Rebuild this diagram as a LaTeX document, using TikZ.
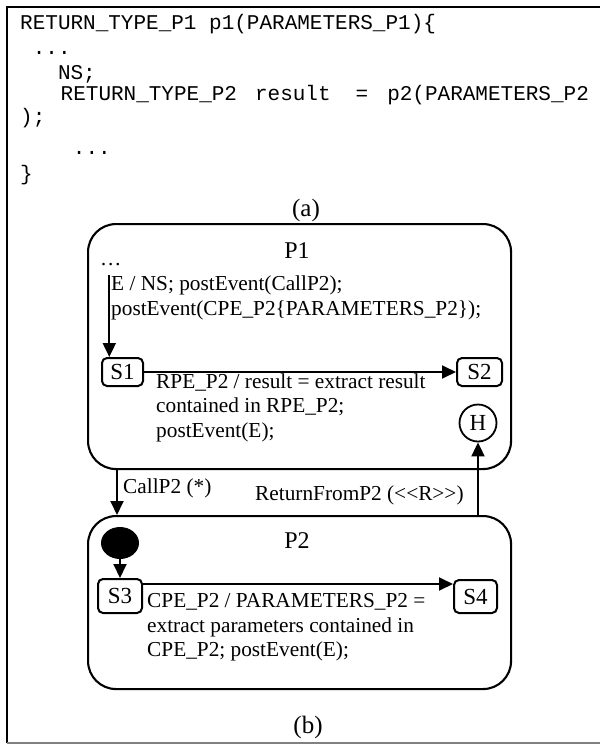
\documentclass[tikz,border=0pt]{standalone}
\usepackage{fontspec}
\setmainfont{Liberation Serif}
\newfontfamily\codefont{Liberation Mono}
\usetikzlibrary{arrows.meta,calc,shapes.geometric}

\begin{document}
\begin{tikzpicture}[x=1pt,y=-1pt,
  code/.style={anchor=base west,inner sep=0pt,font=\codefont\fontsize{21}{24}\selectfont},
  lbl/.style={anchor=base west,inner sep=0pt,font=\fontsize{21.3}{24.5}\selectfont},
  caption/.style={anchor=base,inner sep=0pt,font=\fontsize{25}{28}\selectfont},
  regiontitle/.style={anchor=base,inner sep=0pt,font=\fontsize{24}{28}\selectfont},
  region/.style={draw,line width=2.1pt,rounded corners=28pt,anchor=north west,inner sep=0pt},
  simple/.style={draw,line width=2pt,rounded corners=5pt,inner sep=0pt,font=\fontsize{23}{26}\selectfont},
  flow/.style={line width=1.9pt,-{Triangle[length=14pt,width=13pt]}}
]
\useasboundingbox (0,0) rectangle (600,745);

% outer frame
\draw[line width=1.5pt] (600,7) -- (7,7) -- (7,743);
\draw[gray,line width=1.2pt] (7,743) -- (600,743);

% (a) source fragment
\node[code] (c1) at (20,29) {RETURN\_TYPE\_P1 p1(PARAMETERS\_P1)\{};
\node[code] (c2) at (32.6,54) {...};
\node[code] (c3) at (57.8,79) {NS;};
\node[code] (c4) at (60.5,100) {RETURN\_TYPE\_P2\hspace{18pt}result\hspace{25pt}=\hspace{19pt}p2(PARAMETERS\_P2};
\node[code] (c5) at (20,123) {);};
\node[code] (c6) at (72.7,154) {...};
\node[code] (c7) at (20,180) {\}};
\node[caption] (capa) at (306,216) {(a)};

% (b) state machines
\node[region,minimum width=423pt,minimum height=245pt] (P1) at (87,223) {};
\node[region,minimum width=423pt,minimum height=173pt] (P2) at (87,515) {};
\node[regiontitle] (P1t) at (297,258) {P1};
\node[regiontitle] (P2t) at (297,548) {P2};

\node[simple,minimum width=41pt,minimum height=28pt] (S1) at (122.5,372) {S1};
\node[simple,minimum width=45pt,minimum height=28pt] (S2) at (479.5,372) {S2};
\node[simple,minimum width=44pt,minimum height=34pt] (S3) at (120,596) {S3};
\node[simple,minimum width=43pt,minimum height=33pt] (S4) at (475.5,596.5) {S4};
\node[draw,circle,line width=1.8pt,minimum size=37pt,inner sep=0pt,font=\fontsize{23}{26}\selectfont] (H) at (478,423) {H};
\node[fill,ellipse,minimum width=38pt,minimum height=32pt,inner sep=0pt] (init) at (120,543) {};

% P1 internals
\node[lbl] (dots) at (100,265) {…};
\coordinate (p1in) at (109.3,275);
\draw[flow] (p1in) -- (p1in |- S1.north);
\node[lbl] (t1a) at (111,290) {E / NS; postEvent(CallP2);};
\node[lbl] (t1b) at (111,315) {postEvent(CPE\_P2\{PARAMETERS\_P2\});};

\draw[flow] (S1.east) -- (S2.west);
\node[lbl] (t2a) at (156,388) {RPE\_P2 / result = extract result};
\node[lbl] (t2b) at (156,412) {contained in RPE\_P2;};
\node[lbl] (t2c) at (156,437) {postEvent(E);};

% call and return between P1 and P2
\coordinate (callx) at (117,0);
\draw[flow] (callx |- P1.south) -- (callx |- P2.north);
\node[lbl] (callt) at (123,493) {CallP2 (*)};
\draw[flow] (H |- P2.north) -- (H.south);
\node[lbl] (rett) at (255,500) {ReturnFromP2 ({<}{<}R{>}{>})};

% P2 internals
\draw[flow] (init) -- (S3);
\coordinate (row34) at (0,584);
\draw[flow] (S3.east |- row34) -- (S4.west |- row34);
\node[lbl] (t3a) at (147,607) {CPE\_P2 / PARAMETERS\_P2 =};
\node[lbl] (t3b) at (147,632) {extract parameters contained in};
\node[lbl] (t3c) at (147,656) {CPE\_P2; postEvent(E);};

\node[caption] (capb) at (308,733) {(b)};
\end{tikzpicture}
\end{document}
